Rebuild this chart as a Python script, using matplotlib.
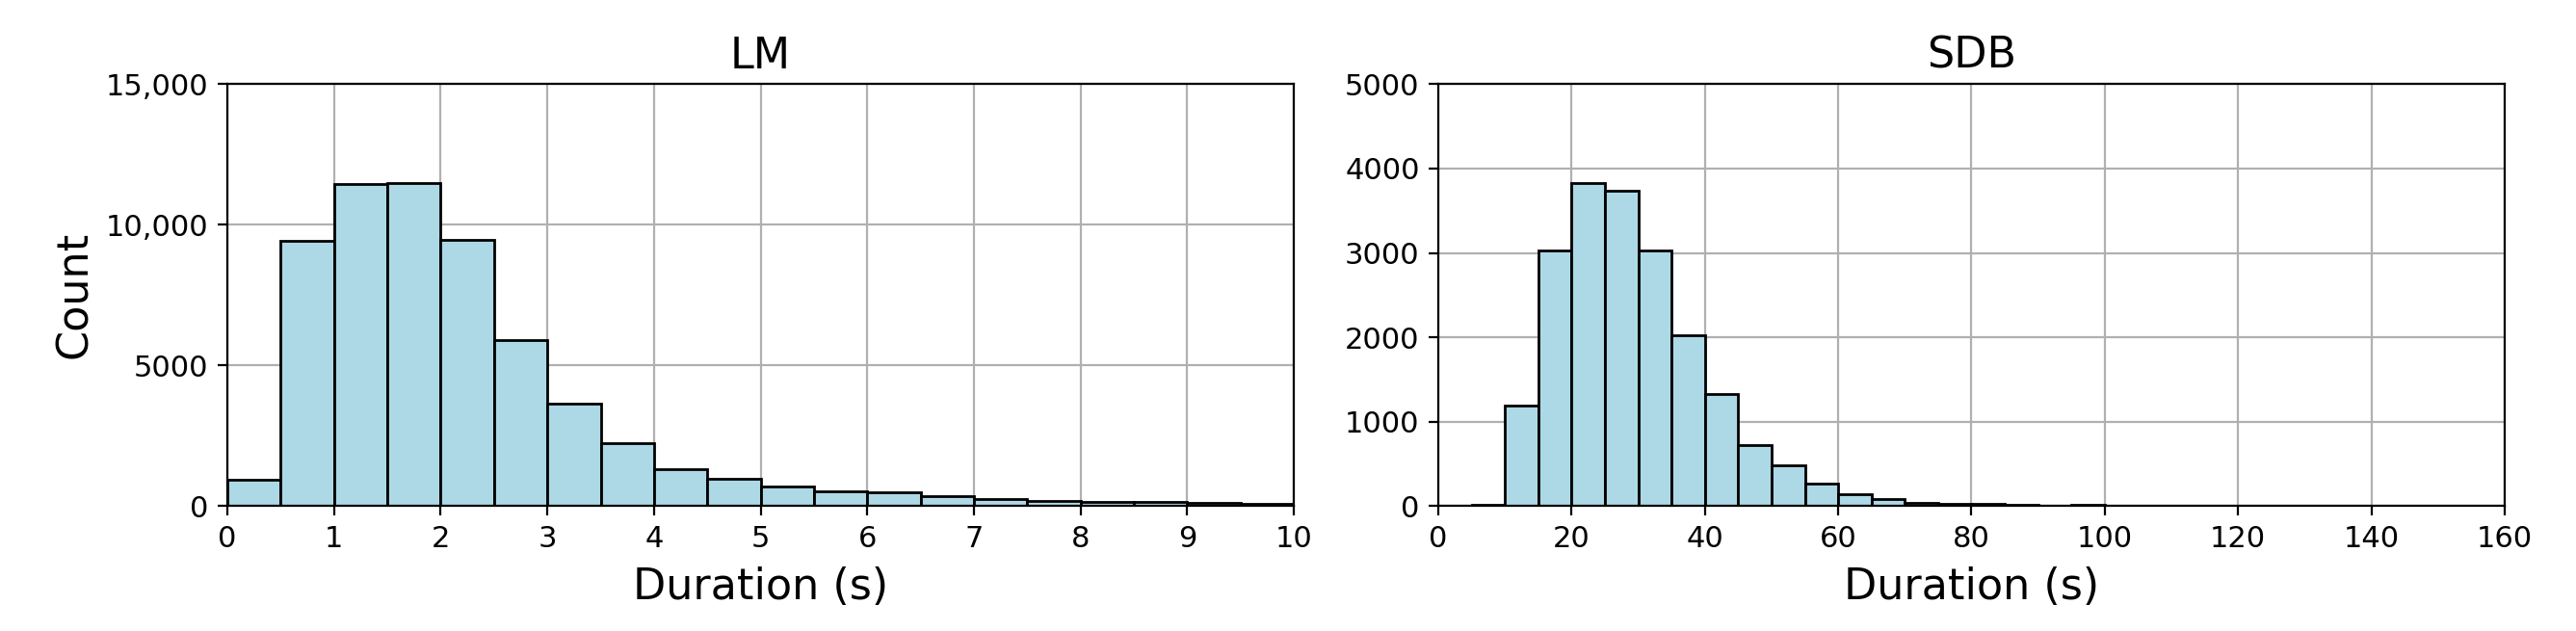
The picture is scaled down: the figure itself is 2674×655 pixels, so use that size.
import numpy as np
import matplotlib
matplotlib.use("Agg")
import matplotlib.pyplot as plt
from matplotlib.ticker import FuncFormatter

# LM durations: 0.5 s bins, 0 - 10 s
lm_edges = np.arange(0, 10.01, 0.5)
lm_counts = [940, 9420, 11440, 11480, 9450, 5890, 3640, 2220, 1300, 980,
             688, 528, 482, 344, 264, 195, 149, 138, 103, 69]

# SDB durations: 5 s bins, 0 - 160 s
sdb_edges = np.arange(0, 160.1, 5)
sdb_counts = [8, 12, 1195, 3030, 3830, 3740, 3027, 2028, 1331, 720,
              480, 268, 140, 88, 40, 27, 25, 15, 8, 12,
              4, 3, 2, 2, 1, 1, 1, 0, 1, 0, 0, 1]

panels = [
    ("LM", lm_edges, lm_counts, (0, 10), (0, 15000), np.arange(0, 11, 1), np.arange(0, 15001, 5000)),
    ("SDB", sdb_edges, sdb_counts, (0, 160), (0, 5000), np.arange(0, 161, 20), np.arange(0, 5001, 1000)),
]


def count_fmt(x, pos):
    if x >= 10000:
        return f"{x:,.0f}"
    return f"{x:.0f}"


fig, axes = plt.subplots(1, 2, figsize=(13.37, 3.275), dpi=200)
plt.subplots_adjust(left=0.0883, right=0.9723, bottom=0.198, top=0.8667, wspace=0.1355)

for ax, (title, edges, counts, xlim, ylim, xticks, yticks) in zip(axes, panels):
    ax.hist(edges[:-1], bins=edges, weights=counts, color="lightblue",
            edgecolor="black", linewidth=1.0)
    ax.set_title(title, fontsize=16)
    ax.set_xlabel("Duration (s)", fontsize=16, labelpad=5)
    ax.set_xlim(*xlim)
    ax.set_ylim(*ylim)
    ax.set_xticks(xticks)
    ax.set_yticks(yticks)
    ax.yaxis.set_major_formatter(FuncFormatter(count_fmt))
    ax.tick_params(labelsize=11)
    ax.grid(True, color="#b0b0b0", linewidth=0.8)
    ax.set_axisbelow(True)

axes[0].set_ylabel("Count", fontsize=16)

plt.savefig("out.png", dpi=200)
